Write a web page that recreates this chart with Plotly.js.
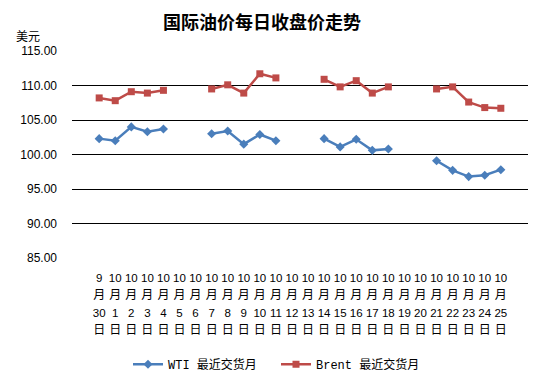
<!DOCTYPE html>
<html><head><meta charset="utf-8">
<script src="https://cdn.plot.ly/plotly-3.0.1.min.js"></script>
<style>html,body{margin:0;padding:0;background:#fff}#c{width:544px;height:384px}</style>
</head><body><div id="c"></div>
<script>
const months = ["9","10","10","10","10","10","10","10","10","10","10","10","10","10","10","10","10","10","10","10","10","10","10","10","10","10"];
const days = ["30","1","2","3","4","5","6","7","8","9","10","11","12","13","14","15","16","17","18","19","20","21","22","23","24","25"];
const sp = (t,s)=>'<span style="font-size:'+s+'px">'+t+'</span>';
const categories = months.map((m,i)=>sp(m,11.5)+"<br>"+sp("月",12)+"<br>"+sp(days[i],11.5)+"<br>"+sp("日",12));
const wti = [102.3,102.0,104.0,103.3,103.7,null,null,103.0,103.4,101.5,102.9,102.0,null,null,102.3,101.1,102.2,100.6,100.8,null,null,99.1,97.7,96.8,97.0,97.8];
const brent = [108.2,107.8,109.1,108.9,109.3,null,null,109.5,110.1,108.9,111.7,111.1,null,null,110.9,109.8,110.7,108.9,109.8,null,null,109.5,109.8,107.6,106.8,106.7];
const yTicks = [85,90,95,100,105,110,115];

const traces = [
 {x:categories,y:wti,name:"WTI 最近交货月",type:"scatter",mode:"lines+markers",connectgaps:false,
  line:{color:"#4A7EBB",width:2.5},marker:{symbol:"diamond",size:7,color:"#4A7EBB"}},
 {x:categories,y:brent,name:"Brent 最近交货月",type:"scatter",mode:"lines+markers",connectgaps:false,
  line:{color:"#BE4B48",width:2.5},marker:{symbol:"square",size:7,color:"#BE4B48"}}
];
const layout = {
 width:544,height:384,paper_bgcolor:"#fff",plot_bgcolor:"#fff",
 margin:{l:72,r:16,t:51,b:126,autoexpand:false},
 font:{family:"Liberation Sans, Arial, 'Noto Sans CJK SC', sans-serif",size:12,color:"#000"},
 title:{text:"国际油价每日收盘价走势",font:{family:"'Noto Sans CJK SC', sans-serif",size:18,weight:"bold",color:"#000"},
  x:262/544,xref:"container",xanchor:"center",y:1-23/384,yref:"container",yanchor:"middle"},
 xaxis:{type:"category",showgrid:false,showline:false,zeroline:false,ticks:"",automargin:false,
  tickfont:{family:"'Liberation Sans', 'Noto Sans CJK SC', sans-serif",size:13.5},tickangle:0,ticklabelstandoff:9},
 yaxis:{range:[85,115],tickvals:yTicks,ticktext:yTicks.map(v=>v.toFixed(2)),showgrid:true,gridcolor:"#000",gridwidth:1,automargin:false,
  showline:false,zeroline:false,ticks:"",ticklabelstandoff:14,tickfont:{size:12}},
 showlegend:true,
 legend:{orientation:"h",x:(128-72)/456,xanchor:"left",y:-0.513,yanchor:"middle",entrywidth:103,entrywidthmode:"pixels",
  font:{family:"'Liberation Mono', 'Noto Sans CJK SC', monospace",size:12},itemwidth:30},
 annotations:[{text:"美元",xref:"paper",yref:"paper",x:-(72-14)/456,xanchor:"left",y:(258.3-35)/208,yanchor:"middle",
  showarrow:false,font:{family:"'Noto Sans CJK SC', sans-serif",size:12}}]
};
Plotly.newPlot("c",traces,layout,{staticPlot:true});
</script></body></html>
